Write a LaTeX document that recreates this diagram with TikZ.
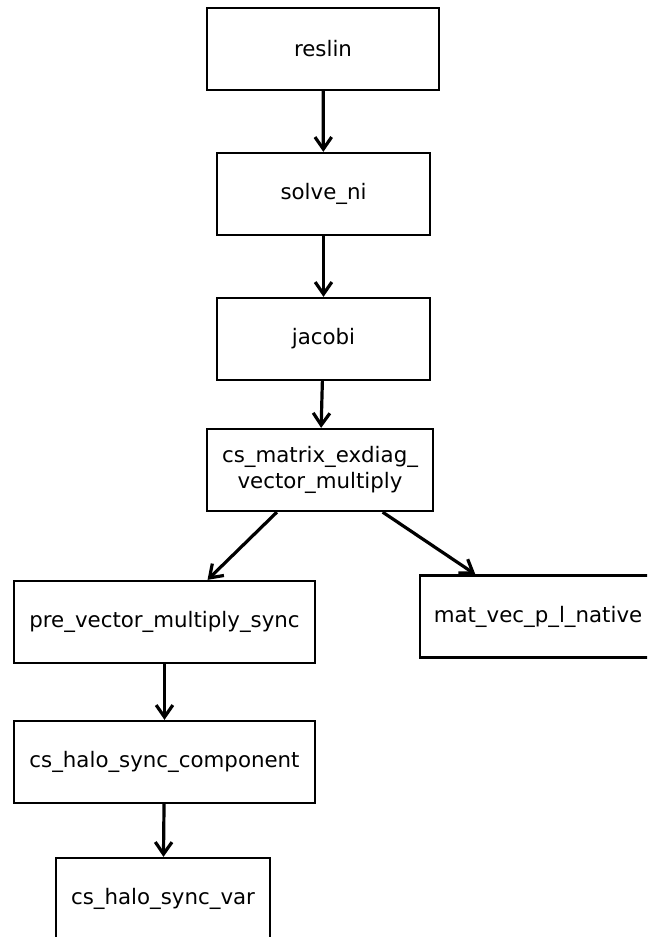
\documentclass[tikz,border=0pt]{standalone}
\usepackage{fontspec}
\setmainfont{DejaVu Sans}
\usetikzlibrary{arrows.meta}

\begin{document}
\begin{tikzpicture}[x=0.75pt,y=0.75pt,yscale=-1,xscale=1,
  callbox/.style={draw,line width=1.7pt,rectangle,minimum height=61.5pt,inner sep=0pt,
    align=center,font=\fontsize{16pt}{20pt}\selectfont},
  callarrow/.style={line width=2.4pt,-{Straight Barb[length=9pt,width=12.5pt,line width=2.4pt]}}]
%set diagram to the size of the reference: 647 x 937
\useasboundingbox (0,0) rectangle (647,937);
\clip (0,0) rectangle (647,937);

%Shape: Rectangle [reslin]
\node (reslin) at (323,49) [callbox,minimum width=174pt] {reslin};
%Shape: Rectangle [solve_ni]
\node (solveni) at (323.5,194) [callbox,minimum width=160pt] {solve\_ni};
%Shape: Rectangle [jacobi]
\node (jacobi) at (323.5,339) [callbox,minimum width=160pt] {jacobi};
%Shape: Rectangle [cs_matrix_exdiag_vector_multiply]
\node (csmatrix) at (320,470) [callbox,minimum width=169.5pt] {cs\_matrix\_exdiag\_\\vector\_multiply};
%Shape: Rectangle [pre_vector_multiply_sync]
\node (prevector) at (164.5,622) [callbox,minimum width=225.75pt] {pre\_vector\_multiply\_sync};
%Shape: Rectangle [mat_vec_p_l_native]
\node (matvec) at (538,616.5) [callbox,minimum width=177pt] {mat\_vec\_p\_l\_native};
%Shape: Rectangle [cs_halo_sync_component]
\node (halocomp) at (164.5,762) [callbox,minimum width=225.75pt] {cs\_halo\_sync\_component};
%Shape: Rectangle [cs_halo_sync_var]
\node (halovar) at (163,899) [callbox,minimum width=160.5pt] {cs\_halo\_sync\_var};

%Straight Lines
\draw [callarrow] (reslin) -- (solveni);
\draw [callarrow] (solveni) -- (jacobi);
\draw [callarrow] (jacobi) -- (csmatrix);
\draw [callarrow] (csmatrix) -- (prevector);
\draw [callarrow] (csmatrix) -- (matvec);
\draw [callarrow] (prevector) -- (halocomp);
\draw [callarrow] (halocomp) -- (halovar);

\end{tikzpicture}
\end{document}
